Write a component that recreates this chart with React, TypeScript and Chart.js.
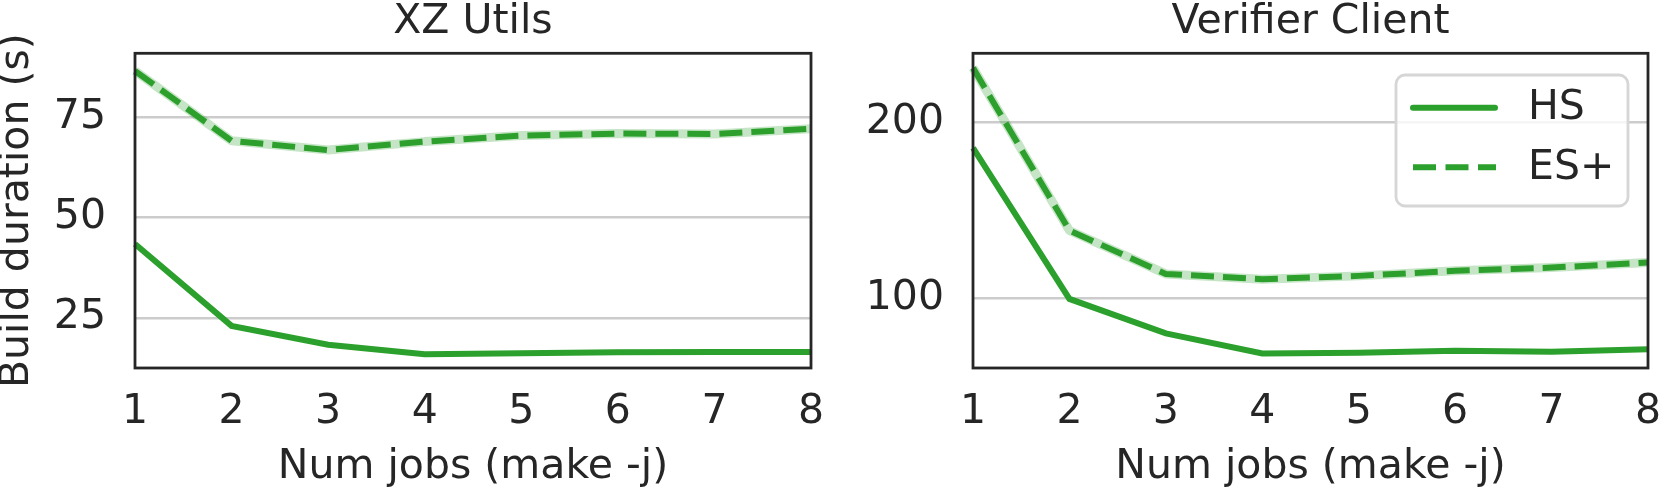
import React, { useEffect, useRef } from "react";
import { Chart, registerables } from "chart.js";

Chart.register(...registerables);

// ---- data ----
const jobs = ["1", "2", "3", "4", "5", "6", "7", "8"];
const seriesNames = ["HS", "ES+"];

const xzHS = [43.4, 23.0, 18.3, 15.9, 16.2, 16.4, 16.5, 16.5];
const xzES = [86.5, 69.1, 66.8, 68.9, 70.4, 70.9, 70.8, 72.1];
const vcHS = [185.5, 99.6, 80.0, 68.6, 69.0, 70.1, 69.5, 70.9];
const vcES = [231.0, 138.5, 113.8, 110.8, 112.7, 115.6, 117.4, 120.3];

const xzTicks = [25, 50, 75];
const vcTicks = [100, 200];

const titles = ["XZ Utils", "Verifier Client"];
const yTitle = "Build duration (s)";
const xTitle = "Num jobs (make -j)";

// ---- style ----
const GREEN = "#2ca02c";
const BAND = "rgba(44,160,44,0.27)";
const TEXT = "#262626";
const FONT = "DejaVu Sans";
const FS = 41;

const framePlugin = {
  id: "frame",
  afterDatasetsDraw(chart: any) {
    const { ctx, chartArea: a } = chart;
    ctx.save();
    ctx.strokeStyle = "#262626";
    ctx.lineWidth = 2.8;
    ctx.strokeRect(a.left, a.top, a.right - a.left, a.bottom - a.top);
    ctx.restore();
  },
};

const legendPlugin = {
  id: "customLegend",
  afterDraw(chart: any) {
    const ctx = chart.ctx;
    ctx.save();
    const x0 = 566, y0 = 75, w = 232, h = 131, r = 9;
    ctx.beginPath();
    ctx.roundRect(x0, y0, w, h, r);
    ctx.fillStyle = "rgba(255,255,255,0.8)";
    ctx.fill();
    ctx.lineWidth = 2.8;
    ctx.strokeStyle = "#d6d6d6";
    ctx.stroke();

    const rows = [107.7, 167.3];
    ctx.strokeStyle = GREEN;
    ctx.lineWidth = 6;
    ctx.lineCap = "round";
    ctx.setLineDash([]);
    ctx.beginPath();
    ctx.moveTo(583, rows[0]);
    ctx.lineTo(665, rows[0]);
    ctx.stroke();
    ctx.lineCap = "butt";
    ctx.setLineDash([23, 9.5]);
    ctx.beginPath();
    ctx.moveTo(583, rows[1]);
    ctx.lineTo(666, rows[1]);
    ctx.stroke();
    ctx.setLineDash([]);

    ctx.fillStyle = TEXT;
    ctx.font = `${FS}px "${FONT}"`;
    ctx.textAlign = "left";
    ctx.textBaseline = "middle";
    ctx.fillText(seriesNames[0], 698, rows[0] + 0.7);
    ctx.fillText(seriesNames[1], 698, rows[1] + 0.7);
    ctx.restore();
  },
};

function makeConfig(
  title: string,
  hs: number[],
  es: number[],
  ticks: number[],
  yMin: number,
  yMax: number,
  yWidth: number,
  padRight: number,
  showYTitle: boolean,
  withLegend: boolean
): any {
  return {
    type: "line",
    data: {
      labels: jobs,
      datasets: [
        {
          label: seriesNames[1] + " band",
          data: es,
          borderColor: BAND,
          borderWidth: 9,
          pointRadius: 0,
          tension: 0,
          fill: false,
          borderJoinStyle: "round",
        },
        {
          label: seriesNames[0],
          data: hs,
          borderColor: GREEN,
          borderWidth: 6,
          pointRadius: 0,
          tension: 0,
          fill: false,
          borderCapStyle: "butt",
        },
        {
          label: seriesNames[1],
          data: es,
          borderColor: GREEN,
          borderWidth: 6,
          borderDash: [23, 9],
          pointRadius: 0,
          tension: 0,
          fill: false,
          borderCapStyle: "butt",
        },
      ],
    },
    options: {
      animation: false,
      responsive: false,
      devicePixelRatio: 1,
      layout: { padding: { left: 0, right: padRight, top: 0, bottom: 0 } },
      plugins: {
        legend: { display: false },
        tooltip: { enabled: false },
        title: {
          display: true,
          text: title,
          fullSize: false,
          color: TEXT,
          font: { family: FONT, size: FS, weight: "normal", lineHeight: 0.8 },
          padding: { top: 6, bottom: 14.5 },
        },
      },
      scales: {
        x: {
          type: "category",
          offset: false,
          grid: { display: false, drawTicks: false },
          border: { display: false },
          ticks: {
            color: TEXT,
            font: { family: FONT, size: FS, lineHeight: 1.2 },
            padding: 20,
            maxRotation: 0,
            autoSkip: false,
          },
          title: {
            display: true,
            text: xTitle,
            color: TEXT,
            font: { family: FONT, size: FS, lineHeight: 1.15 },
            padding: 0,
          },
          afterFit: (s: any) => {
            s.height = 123;
            s.paddingLeft = 0;
            s.paddingRight = 0;
          },
        },
        y: {
          type: "linear",
          min: yMin,
          max: yMax,
          grid: { display: true, color: "#cccccc", lineWidth: 2.5, drawTicks: false },
          border: { display: false },
          ticks: {
            color: TEXT,
            font: { family: FONT, size: FS, lineHeight: 1.2 },
            padding: 29,
          },
          afterBuildTicks: (s: any) => {
            s.ticks = ticks.map((v) => ({ value: v }));
          },
          title: {
            display: showYTitle,
            text: yTitle,
            color: TEXT,
            font: { family: FONT, size: FS, lineHeight: 0.85 },
            padding: 0,
          },
          afterFit: (s: any) => {
            s.width = yWidth;
            s.paddingTop = 0;
            s.paddingBottom = 0;
          },
        },
      },
    },
    plugins: withLegend ? [framePlugin, legendPlugin] : [framePlugin],
  };
}

export default function App() {
  const leftRef = useRef<HTMLCanvasElement>(null);
  const rightRef = useRef<HTMLCanvasElement>(null);

  useEffect(() => {
    const c1 = new Chart(
      leftRef.current as HTMLCanvasElement,
      makeConfig(titles[0], xzHS, xzES, xzTicks, 12.5, 90.9, 135, 19, true, false)
    );
    const c2 = new Chart(
      rightRef.current as HTMLCanvasElement,
      makeConfig(titles[1], vcHS, vcES, vcTicks, 60.3, 239.3, 143, 13, false, true)
    );
    return () => {
      c1.destroy();
      c2.destroy();
    };
  }, []);

  return (
    <div
      style={{
        position: "fixed",
        left: 0,
        top: 0,
        width: 1661,
        height: 491,
        background: "#ffffff",
        overflow: "hidden",
      }}
    >
      <canvas
        ref={leftRef}
        width={830}
        height={491}
        style={{ position: "absolute", left: 0, top: 0, width: 830, height: 491 }}
      />
      <canvas
        ref={rightRef}
        width={831}
        height={491}
        style={{ position: "absolute", left: 830, top: 0, width: 831, height: 491 }}
      />
    </div>
  );
}
